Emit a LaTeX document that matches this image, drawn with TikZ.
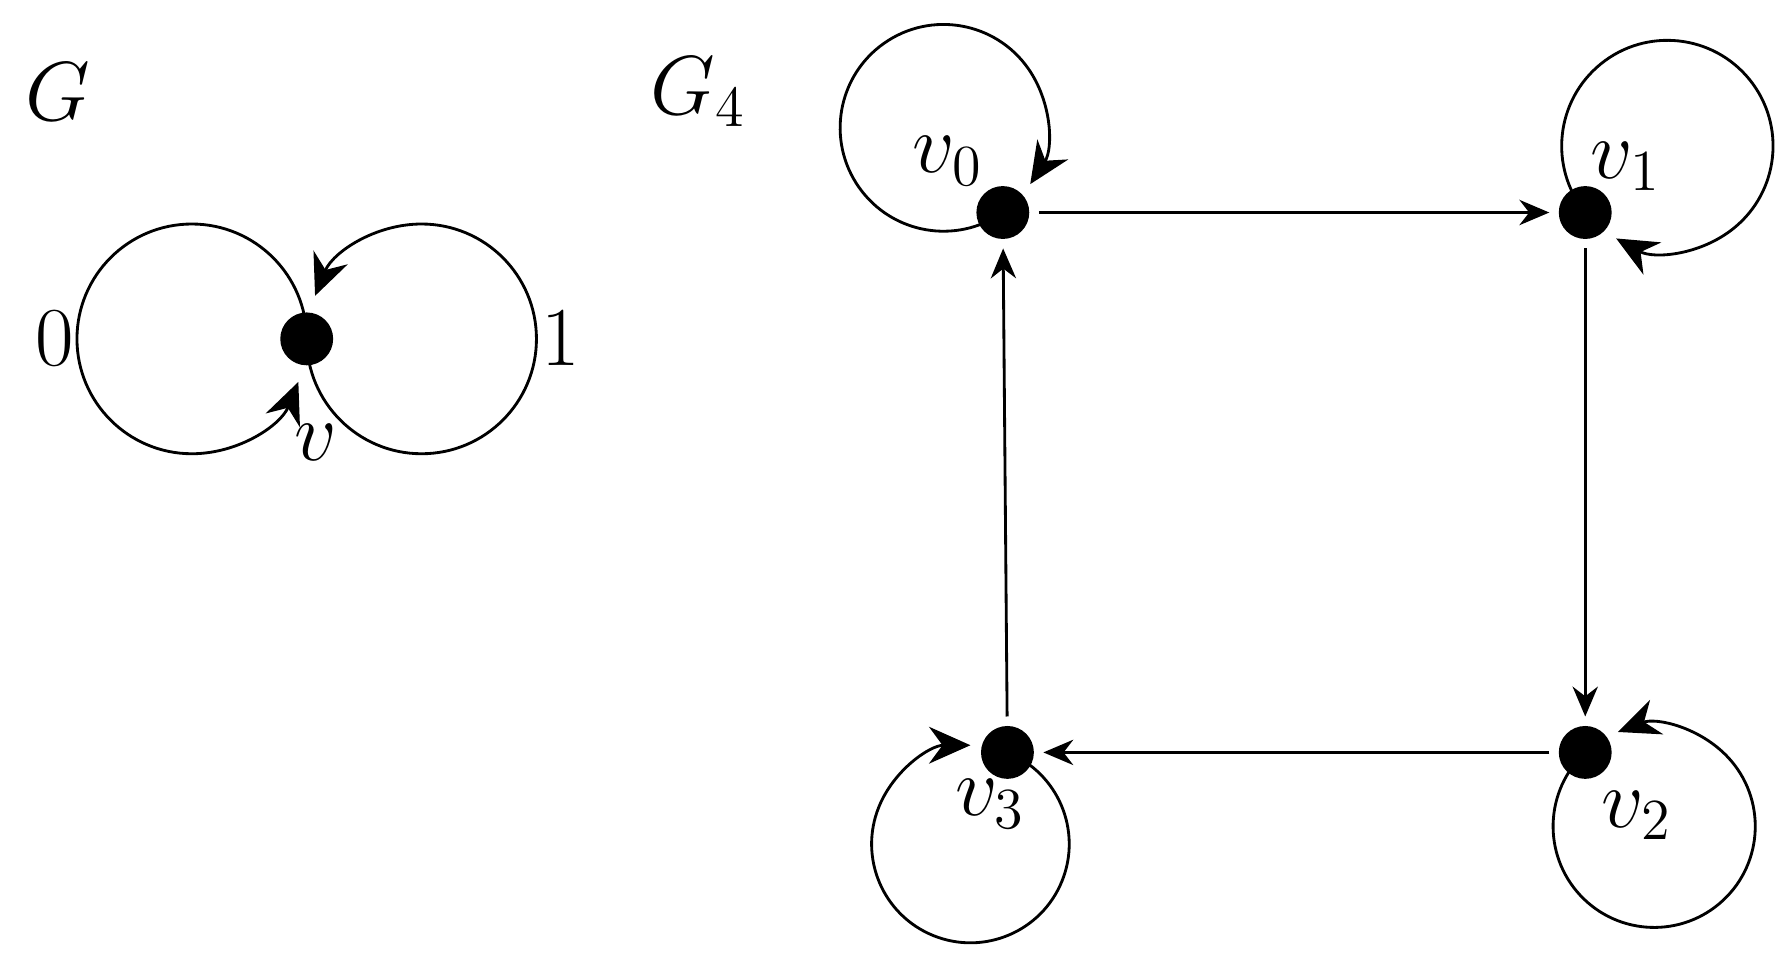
\documentclass[tikz,border=0pt]{standalone}
\usetikzlibrary{arrows.meta}
\begin{document}
\begin{tikzpicture}[x=0.01cm,y=0.01cm,line width=0.7pt,
  dot/.style={circle,fill=black,inner sep=0pt,minimum size=0.46cm},
  lbl/.style={font=\fontsize{21}{24}\selectfont},
  bigtip/.style={-{Stealth[length=3.6mm,width=3.2mm]}},
  edgetip/.style={-{Stealth[length=2.6mm,width=2.2mm]},shorten >=2pt,shorten <=2pt}]
\useasboundingbox (0,0) rectangle (1560,841);
\node[lbl] (G) at (50,761) {$G$};
\node[lbl] (G4) at (608,761) {$G_4$};
\node[dot] (v) at (267,546) {};
\node[lbl] (l0) at (48,546) {$0$};
\node[lbl] (l1) at (488,546) {$1$};
\node[lbl] (lv) at (275,456) {$v$};
\draw[bigtip] (v.center) arc[start angle=0,end angle=338,radius=100];
\draw[bigtip] (v.center) arc[start angle=180,end angle=518,radius=100];
\node[dot] (v0) at (873,656) {};
\node[dot] (v1) at (1380,656) {};
\node[dot] (v2) at (1380,186) {};
\node[dot] (v3) at (877,186) {};
\node[lbl] (l0b) at (825,701) {$v_0$};
\node[lbl] (l1b) at (1415,696) {$v_1$};
\node[lbl] (l2b) at (1425,131) {$v_2$};
\node[lbl] (l3b) at (862,141) {$v_3$};
\draw[bigtip] (v0.center) arc[start angle=-55,end angle=-393,radius=90];
\draw[bigtip] (v1.center) arc[start angle=219,end angle=-119,radius=92];
\draw[bigtip] (v2.center) arc[start angle=133,end angle=471,radius=88];
\draw[bigtip] (v3.center) arc[start angle=68,end angle=-270,radius=86];
\draw[edgetip] (v0) -- (v1);
\draw[edgetip] (v1) -- (v2);
\draw[edgetip] (v2) -- (v3);
\draw[edgetip] (v3) -- (v0);
\end{tikzpicture}
\end{document}
